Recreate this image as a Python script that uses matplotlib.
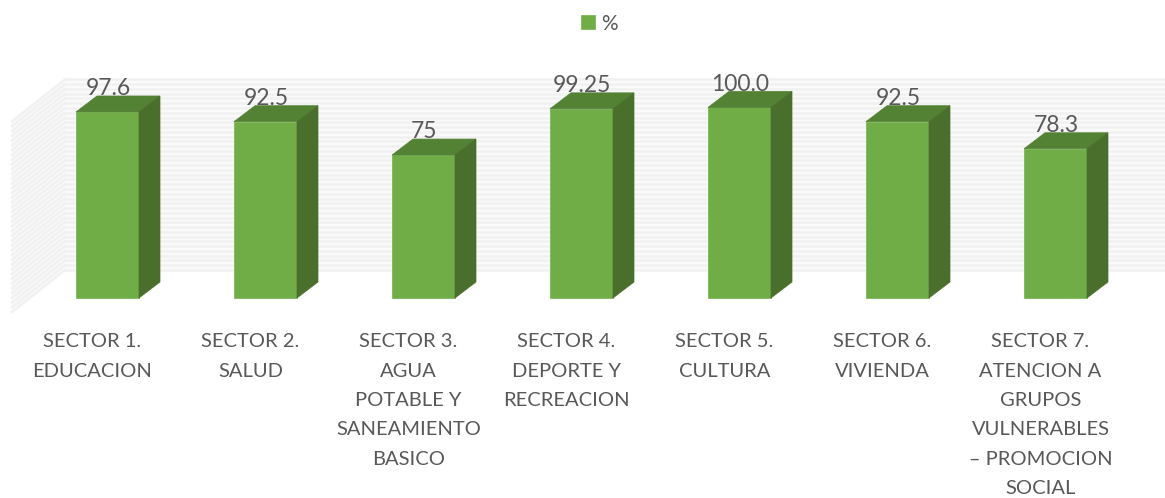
import matplotlib
matplotlib.use("Agg")
import matplotlib.pyplot as plt
from matplotlib.patches import Polygon
import numpy as np

plt.rcParams["font.family"] = ["Lato", "DejaVu Sans"]

# data
sectors = [
    "SECTOR 1.\nEDUCACION",
    "SECTOR 2.\nSALUD",
    "SECTOR 3.\nAGUA\nPOTABLE Y\nSANEAMIENTO\nBASICO",
    "SECTOR 4.\nDEPORTE Y\nRECREACION",
    "SECTOR 5.\nCULTURA",
    "SECTOR 6.\nVIVIENDA",
    "SECTOR 7.\nATENCION A\nGRUPOS\nVULNERABLES\n– PROMOCION\nSOCIAL",
]
values = [97.6, 92.5, 75, 99.25, 100.0, 92.5, 78.3]
value_labels = ["97.6", "92.5", "75", "99.25", "100.0", "92.5", "78.3"]
grid_levels = np.arange(0, 100.1, 2.5)

FRONT = "#70AD47"
TOP = "#548235"
SIDE = "#4A6E2B"
TEXT = "#595959"
GRID = "#F1F1F1"
WALL = "#FAFAFA"

# scale of the picture: 158 px per category, 1.906 px per value unit
PX_X = 158.0
PX_Y = 1.906
BAR_W = 63 / PX_X
DX = 21 / PX_X
DY = 16 / PX_Y

fig = plt.figure(figsize=(11.65, 4.98), dpi=100)
ax = fig.add_axes([0, 0, 1, 1])
ax.set_xlim(-107.5 / PX_X, (1165 - 107.5) / PX_X)
ax.set_ylim(-200 / PX_Y, 298 / PX_Y)
ax.axis("off")

# back wall and side wall stripes
wall_x0 = -42.5 / PX_X
wall_x1 = ax.get_xlim()[1]
side_x0 = -95.5 / PX_X
wall_off = 28 / PX_Y
side_off = -14 / PX_Y
top = grid_levels[-1]
ax.add_patch(Polygon([(wall_x0, wall_off), (wall_x1, wall_off), (wall_x1, top + wall_off), (wall_x0, top + wall_off)],
                     closed=True, facecolor=WALL, edgecolor="none", zorder=0))
ax.add_patch(Polygon([(side_x0, side_off), (wall_x0, wall_off), (wall_x0, top + wall_off), (side_x0, top + side_off)],
                     closed=True, facecolor=WALL, edgecolor="none", zorder=0))
for lv in grid_levels:
    ax.plot([wall_x0, wall_x1], [lv + wall_off, lv + wall_off], color=GRID, lw=1.8, zorder=1)
    ax.plot([side_x0, wall_x0], [lv + side_off, lv + wall_off], color=GRID, lw=1.8, zorder=1)

x = np.arange(len(values))
ax.bar(x, values, width=BAR_W, color=FRONT, edgecolor="#7DB85A", lw=0.6, zorder=3, label="%")

for xi, v, lab in zip(x, values, value_labels):
    left, right = xi - BAR_W / 2, xi + BAR_W / 2
    ax.add_patch(Polygon([(left, v), (right, v), (right + DX, v + DY), (left + DX, v + DY)],
                         closed=True, facecolor=TOP, edgecolor=TOP, lw=0.5, zorder=3))
    ax.add_patch(Polygon([(right, 0), (right + DX, DY), (right + DX, v + DY), (right, v)],
                         closed=True, facecolor=SIDE, edgecolor=SIDE, lw=0.5, zorder=3))
    ax.text(xi + 0.005, v + DY + 0.3, lab, ha="center", va="baseline", fontsize=16.5, color=TEXT, zorder=4)

for xi, s in zip(x, sectors):
    ax.text(xi - 0.095, -18.5, s, ha="center", va="top", fontsize=14.5, color=TEXT,
            linespacing=1.88, zorder=4)

ax.legend(loc="upper center", bbox_to_anchor=(0.5146, 1.0), frameon=False, ncol=1,
          fontsize=15, labelcolor=TEXT, handlelength=0.65, handleheight=0.65,
          handletextpad=0.3, borderaxespad=0.25)

fig.savefig("out.png", dpi=100)
